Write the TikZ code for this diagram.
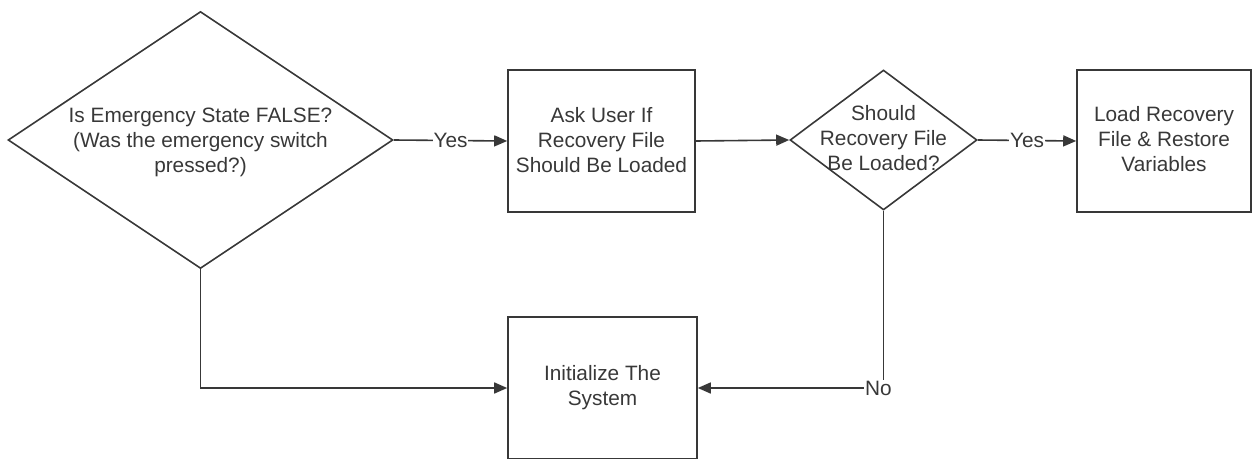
\documentclass[tikz,border=0pt]{standalone}
\usepackage{fontspec}
\setmainfont{Liberation Sans}
\usetikzlibrary{shapes.geometric,arrows.meta}
\begin{document}
\begin{tikzpicture}[x=1pt,y=-1pt,
  every node/.style={font=\fontsize{20.8}{25}\selectfont, text=black!78},
  boxnode/.style={draw=black!78, line width=1.6pt, rectangle, inner sep=0pt},
  dianode/.style={draw=black!78, line width=1.6pt, diamond, inner sep=0pt},
  txt/.style={align=center, inner sep=0pt},
  conn/.style={draw=black!78, line width=1.6pt, -{Triangle[length=13pt,width=11pt]}},
  lbl/.style={fill=white, inner sep=1pt}]
\useasboundingbox (0,0) rectangle (1253,458);
\node[dianode, minimum width=385pt, minimum height=257pt] (d1) at (200.5,140) {};
\node[txt] (t1) at (200.5,142) {Is Emergency State FALSE?\\(Was the emergency switch\\pressed?)};
\node[boxnode, minimum width=187pt, minimum height=142pt] (b1) at (601.5,141) {};
\node[txt] (t2) at (601.5,140) {Ask User If\\Recovery File\\Should Be Loaded};
\node[dianode, minimum width=187pt, minimum height=140pt] (d2) at (883.5,140) {};
\node[txt] (t3) at (883.5,138) {Should\\Recovery File\\Be Loaded?};
\node[boxnode, minimum width=174pt, minimum height=142pt] (b2) at (1164,141) {};
\node[txt] (t4) at (1164,139) {Load Recovery\\File \& Restore\\Variables};
\node[boxnode, minimum width=189pt, minimum height=142pt] (b3) at (602.5,388) {};
\node[txt] (t5) at (602.5,388) {Initialize The\\System};
\draw[conn] (d1.east) -- node[lbl] (y1) {Yes} (b1.west);
\draw[conn] (b1.east) -- (d2.west);
\draw[conn] (d2.east) -- node[lbl] (y2) {Yes} (b2.west);
\draw[conn] (d1.south) |- (b3.west);
\draw[conn] (d2.south) |- node[lbl, pos=0.5, xshift=-5pt] (no) {No} (b3.east);
\end{tikzpicture}
\end{document}
